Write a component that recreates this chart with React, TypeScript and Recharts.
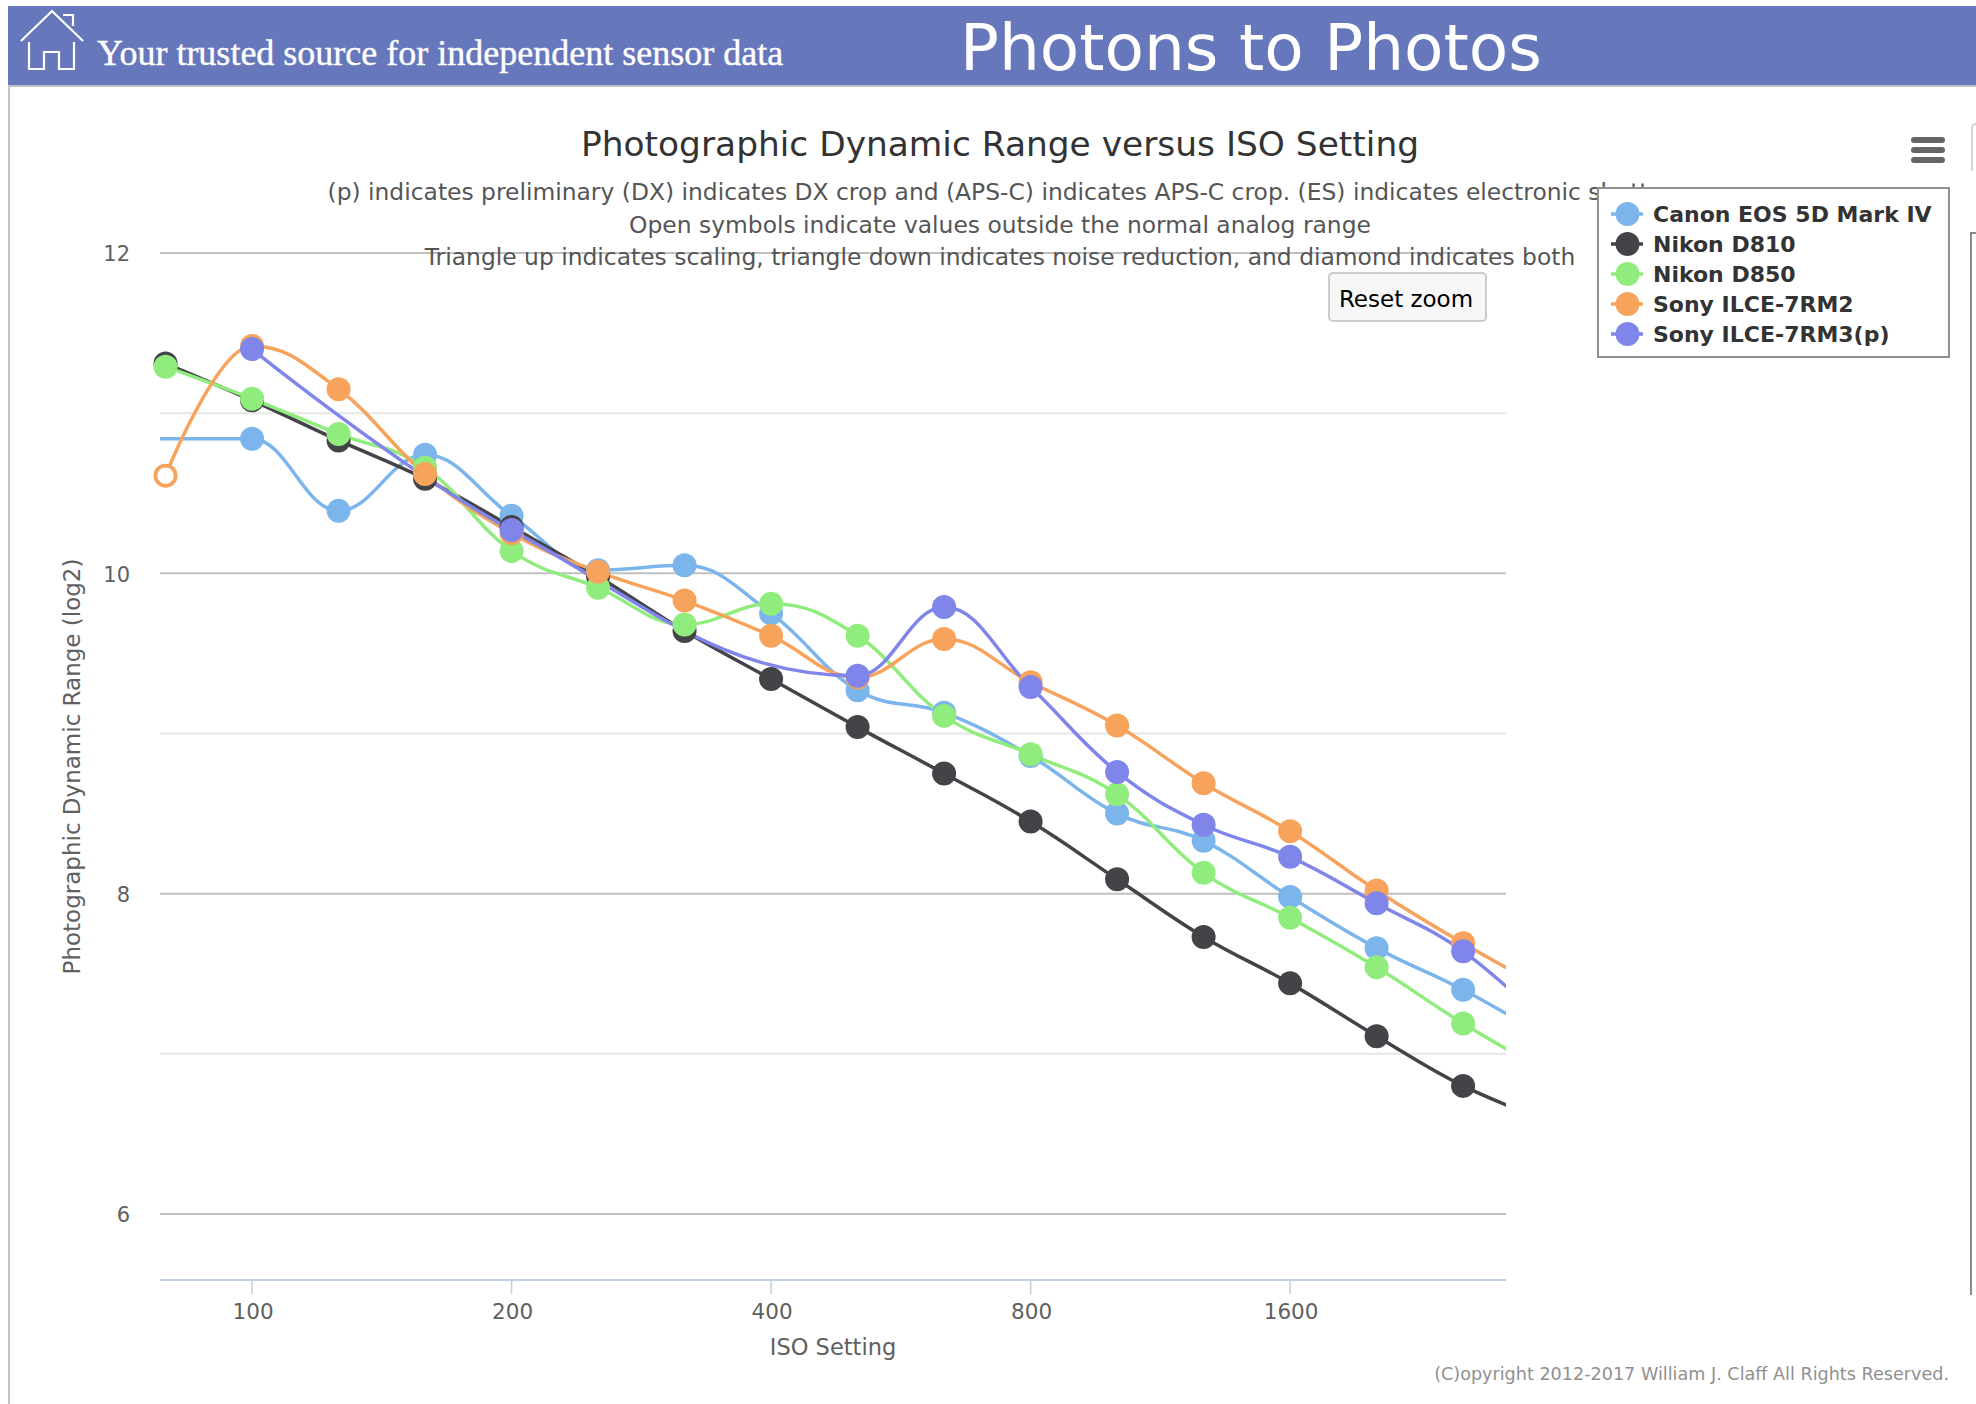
import React from "react";
import { ComposedChart, Line, XAxis, YAxis, CartesianGrid, Legend } from "recharts";

const isoSettings = [63.5, 79.37, 100, 125.99, 158.74, 200, 251.98, 317.48, 400, 503.97, 634.96, 800, 1007.9, 1269.9, 1600, 2015.9, 2539.8, 3200];
const canon5DMarkIV = [10.84, null, 10.84, 10.39, 10.74, 10.36, 10.02, 10.05, 9.75, 9.27, 9.13, 8.86, 8.5, 8.33, 7.98, 7.66, 7.4, 7.09];
const nikonD810 = [null, 11.31, 11.08, 10.83, 10.59, 10.29, 9.98, 9.64, 9.34, 9.04, 8.75, 8.45, 8.09, 7.73, 7.44, 7.11, 6.8, 6.58];
const nikonD850 = [null, 11.29, 11.09, 10.87, 10.66, 10.14, 9.91, 9.68, 9.81, 9.61, 9.11, 8.87, 8.62, 8.13, 7.85, 7.54, 7.19, 6.88];
const sonyA7RM2 = [null, 10.61, 11.42, 11.15, 10.62, 10.25, 10.01, 9.83, 9.61, 9.35, 9.59, 9.32, 9.05, 8.69, 8.39, 8.02, 7.69, 7.39];
const sonyA7RM3 = [null, null, 11.4, null, null, 10.27, null, null, null, 9.36, 9.79, 9.29, 8.76, 8.43, 8.23, 7.94, 7.64, 7.17];
const sonyA7RM2Open = [null, 10.61, null, null, null, null, null, null, null, null, null, null, null, null, null, null, null, null];

const seriesNames = ["Canon EOS 5D Mark IV", "Nikon D810", "Nikon D850", "Sony ILCE-7RM2", "Sony ILCE-7RM3(p)"];
const seriesColors = ["#7cb5ec", "#434348", "#90ed7d", "#f7a35c", "#8085e9"];
const seriesValues = [canon5DMarkIV, nikonD810, nikonD850, sonyA7RM2, sonyA7RM3];

const isoTicks = [100, 200, 400, 800, 1600];
const drTicks = [6, 8, 10, 12];
const drMinor = [7, 9, 11];

const headerTagline = "Your trusted source for independent sensor data";
const headerTitle = "Photons to Photos";
const chartTitle = "Photographic Dynamic Range versus ISO Setting";
const subtitleLines = [
  "(p) indicates preliminary (DX) indicates DX crop and (APS-C) indicates APS-C crop. (ES) indicates electronic shutter",
  "Open symbols indicate values outside the normal analog range",
  "Triangle up indicates scaling, triangle down indicates noise reduction, and diamond indicates both",
];
const copyright = "(C)opyright 2012-2017 William J. Claff All Rights Reserved.";

const tableRows = isoSettings.map((iso, i) => {
  const row: Record<string, number | null> = { iso, open: sonyA7RM2Open[i] };
  seriesNames.forEach((name, s) => {
    row[name] = seriesValues[s][i];
  });
  return row;
});

const FONT = "'DejaVu Sans', sans-serif";

// Same control-point rule as a Highcharts "spline" series.
function splineCurve(context: any) {
  let pts: [number, number][] = [];
  return {
    areaStart() {},
    areaEnd() {},
    lineStart() {
      pts = [];
    },
    point(x: number, y: number) {
      pts.push([+x, +y]);
    },
    lineEnd() {
      const s = 1.5;
      const d = 2.5;
      const ctrl = pts.map((p, i) => {
        if (i === 0 || i === pts.length - 1) return { lx: p[0], ly: p[1], rx: p[0], ry: p[1] };
        const [x, y] = p;
        const [lastX, lastY] = pts[i - 1];
        const [nextX, nextY] = pts[i + 1];
        const lx = (s * x + lastX) / d;
        let ly = (s * y + lastY) / d;
        const rx = (s * x + nextX) / d;
        let ry = (s * y + nextY) / d;
        const c = ((ry - ly) * (rx - x)) / (rx - lx) + y - ry;
        ly += c;
        ry += c;
        if (ly > lastY && ly > y) {
          ly = Math.max(lastY, y);
          ry = 2 * y - ly;
        } else if (ly < lastY && ly < y) {
          ly = Math.min(lastY, y);
          ry = 2 * y - ly;
        }
        if (ry > nextY && ry > y) {
          ry = Math.max(nextY, y);
          ly = 2 * y - ry;
        } else if (ry < nextY && ry < y) {
          ry = Math.min(nextY, y);
          ly = 2 * y - ry;
        }
        return { lx, ly, rx, ry };
      });
      pts.forEach((p, i) => {
        if (i === 0) context.moveTo(p[0], p[1]);
        else context.bezierCurveTo(ctrl[i - 1].rx, ctrl[i - 1].ry, ctrl[i].lx, ctrl[i].ly, p[0], p[1]);
      });
    },
  };
}

function LegendBox({ payload }: any) {
  const items = (payload || []).filter((p: any) => seriesNames.includes(p.value));
  return (
    <div
      style={{
        boxSizing: "border-box",
        width: 353,
        height: 171,
        background: "#fff",
        border: "2.5px solid #909090",
        paddingTop: 10,
      }}
    >
      {items.map((p: any) => (
        <div key={p.value} style={{ display: "flex", alignItems: "center", height: 30 }}>
          <svg width={52} height={30} style={{ flex: "none" }}>
            <line x1={12} x2={44} y1={15} y2={15} stroke={p.color} strokeWidth={3.5} />
            <circle cx={28.5} cy={15} r={12} fill={p.color} />
          </svg>
          <span style={{ fontFamily: FONT, fontWeight: 700, fontSize: 22, color: "#333", marginLeft: 2, whiteSpace: "nowrap" }}>
            {p.value}
          </span>
        </div>
      ))}
    </div>
  );
}

export default function App() {
  return (
    <div style={{ position: "absolute", left: 0, top: 0, width: 1976, height: 1404, overflow: "hidden", background: "#fff" }}>
      <div style={{ position: "absolute", left: 8, top: 6, right: 0, height: 79, background: "#6677bb", borderBottom: "2px solid #c0c0c0" }} />
      <div style={{ position: "absolute", left: 8, top: 86, width: 2, bottom: 0, background: "#c4c4c4" }} />
      <svg width={100} height={86} style={{ position: "absolute", left: 0, top: 0 }}>
        <g fill="none" stroke="#fff" strokeWidth={2.2}>
          <polyline points="21,41 52,11 83,41" />
          <polyline points="63,15 73,15 73,26" />
          <polyline points="29,42 29,69 44,69 44,52 59,52 59,69 74,69 74,42" />
        </g>
      </svg>
      <div style={{ position: "absolute", left: 97, top: 31, fontFamily: "'Liberation Serif', serif", fontSize: 36, lineHeight: "44px", color: "#fff", whiteSpace: "nowrap", WebkitTextStroke: "0.4px #fff" }}>
        {headerTagline}
      </div>
      <div style={{ position: "absolute", left: 960, top: 9, fontFamily: FONT, fontSize: 64.5, lineHeight: "78px", color: "#fff", whiteSpace: "nowrap" }}>
        {headerTitle}
      </div>
      <div style={{ position: "absolute", left: 1971, top: 123, width: 20, height: 48, boxSizing: "border-box", border: "2px solid #d4d4d4", borderRight: "none", borderBottom: "none", borderRadius: "5px 0 0 0" }} />
      <div style={{ position: "absolute", left: 1970, top: 232, width: 2, height: 1063, background: "#8a8a8a" }} />
      <div style={{ position: "absolute", left: 1970, top: 232, width: 6, height: 2, background: "#8a8a8a" }} />
      <div style={{ position: "absolute", left: 0, top: 0, width: 1976, height: 1404 }}>
        <ComposedChart
          width={1976}
          height={1404}
          data={tableRows}
          margin={{ top: 253, right: 470, bottom: 0, left: 0 }}
        >
          <CartesianGrid vertical={false} horizontalValues={drMinor} stroke="#e6e6e6" strokeWidth={2} />
          <CartesianGrid vertical={false} horizontalValues={drTicks} stroke="#c0c0c0" strokeWidth={2} />
          <XAxis
            dataKey="iso"
            type="number"
            scale="log"
            domain={[78.2, 2848]}
            allowDataOverflow
            ticks={isoTicks}
            height={124}
            tickSize={14}
            tickMargin={10}
            stroke="#c0d0e0"
            strokeWidth={2}
            tick={{ fill: "#606060", fontSize: 21.5, fontFamily: FONT, stroke: "none", dx: 1 }}
            tickLine={{ stroke: "#c0d0e0", strokeWidth: 1.5 }}
            label={{ value: "ISO Setting", position: "insideBottom", offset: 49, fill: "#606060", fontSize: 22.5, fontFamily: FONT }}
          />
          <YAxis
            type="number"
            domain={[5.588, 12]}
            allowDataOverflow
            ticks={drTicks}
            width={160}
            axisLine={false}
            tickLine={false}
            tickMargin={30}
            tickSize={0}
            tick={{ fill: "#606060", fontSize: 21, fontFamily: FONT, dy: 1 }}
            label={{
              value: "Photographic Dynamic Range (log2)",
              angle: -90,
              position: "insideLeft",
              offset: 72,
              fill: "#606060",
              fontSize: 23,
              fontFamily: FONT,
              style: { textAnchor: "middle" },
            }}
          />
          {seriesNames.map((name, s) => (
            <Line
              key={name}
              dataKey={name}
              name={name}
              type={splineCurve as any}
              stroke={seriesColors[s]}
              strokeWidth={3.5}
              connectNulls
              isAnimationActive={false}
              dot={{ r: 12, fill: seriesColors[s], stroke: "none", strokeWidth: 0, clipDot: false }}
              activeDot={false}
            />
          ))}
          <Line
            dataKey="open"
            legendType="none"
            stroke="none"
            isAnimationActive={false}
            dot={{ r: 10, fill: "#fff", stroke: seriesColors[3], strokeWidth: 3.5, clipDot: false }}
            activeDot={false}
          />
          <Legend
            layout="vertical"
            align="center"
            verticalAlign="middle"
            wrapperStyle={{ left: 1597, top: 187, width: 353, height: 171, zIndex: 5 }}
            content={(props: any) => <LegendBox {...props} />}
          />
          <text x={1000} y={156} textAnchor="middle" fontFamily={FONT} fontSize={34.4} fill="#333">
            {chartTitle}
          </text>
          {subtitleLines.map((line, i) => (
            <text key={i} x={1000} y={[200, 233, 265][i]} textAnchor="middle" fontFamily={FONT} fontSize={23.4} fill="#555">
              {line}
            </text>
          ))}
          <rect x={1329} y={273} width={157} height={48} rx={4} fill="#f7f7f7" stroke="#cccccc" strokeWidth={2} />
          <text x={1406} y={307} textAnchor="middle" fontFamily={FONT} fontSize={23} fill="#000">
            Reset zoom
          </text>
          {[137, 147, 157].map((y) => (
            <rect key={y} x={1911} y={y} width={34} height={6} rx={3} fill="#666" />
          ))}
          <text x={1949} y={1380} textAnchor="end" fontFamily={FONT} fontSize={17.6} fill="#909090">
            {copyright}
          </text>
        </ComposedChart>
      </div>
    </div>
  );
}
